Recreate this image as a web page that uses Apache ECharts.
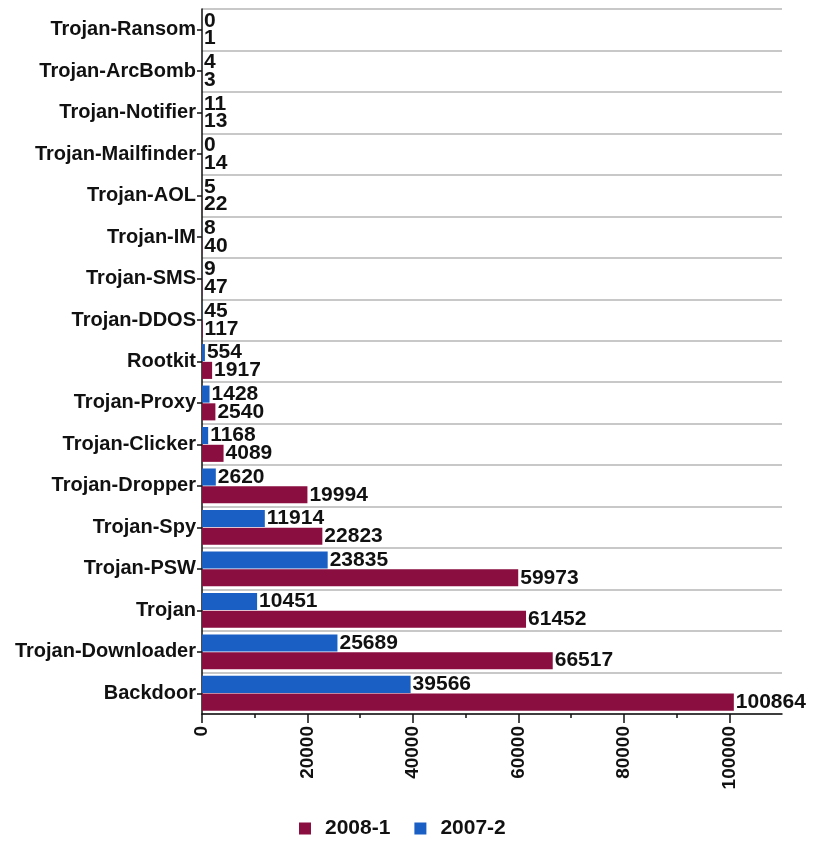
<!DOCTYPE html>
<html>
<head>
<meta charset="utf-8">
<script src="https://cdn.jsdelivr.net/npm/echarts@6/dist/echarts.min.js"></script>
<style>
  html, body { margin: 0; padding: 0; background: #fff; }
  #chart { width: 814px; height: 841px; }
</style>
</head>
<body>
<div id="chart"></div>
<script>
// Malware categories, listed bottom to top along the vertical axis
const categories = [
  'Backdoor', 'Trojan-Downloader', 'Trojan', 'Trojan-PSW', 'Trojan-Spy',
  'Trojan-Dropper', 'Trojan-Clicker', 'Trojan-Proxy', 'Rootkit', 'Trojan-DDOS',
  'Trojan-SMS', 'Trojan-IM', 'Trojan-AOL', 'Trojan-Mailfinder', 'Trojan-Notifier',
  'Trojan-ArcBomb', 'Trojan-Ransom'
];
const values2008_1 = [100864, 66517, 61452, 59973, 22823, 19994, 4089, 2540, 1917, 117, 47, 40, 22, 14, 13, 3, 1];
const values2007_2 = [39566, 25689, 10451, 23835, 11914, 2620, 1168, 1428, 554, 45, 9, 8, 5, 0, 11, 4, 0];
const seriesNames = ['2008-1', '2007-2'];
const xTicks = [0, 20000, 40000, 60000, 80000, 100000];

const FONT = '"Liberation Sans", Arial, sans-serif';
const chart = echarts.init(document.getElementById('chart'), null, { renderer: 'canvas' });

const valueLabel = {
  show: true,
  position: 'right',
  distance: 2,
  color: '#111',
  fontFamily: FONT,
  fontWeight: 'bold',
  fontSize: 21
};

chart.setOption({
  animation: false,
  backgroundColor: '#fff',
  grid: { left: 202, right: 32, top: 9, bottom: 127, containLabel: false },
  legend: {
    top: 813,
    left: 294,
    itemWidth: 12,
    itemHeight: 12,
    itemGap: 24,
    icon: 'rect',
    textStyle: { fontFamily: FONT, fontWeight: 'bold', fontSize: 21, color: '#111', padding: [0, 0, 0, 9] },
    data: seriesNames
  },
  xAxis: {
    type: 'value',
    min: 0,
    max: 110000,
    interval: 20000,
    axisLine: { show: true, lineStyle: { color: '#111', width: 1.5 } },
    axisTick: { show: true, length: 9, customValues: xTicks, lineStyle: { color: '#111', width: 1.5 } },
    minorTick: { show: true, splitNumber: 2, length: 4, lineStyle: { color: '#111', width: 1.5 } },
    splitLine: { show: false },
    axisLabel: {
      rotate: 90,
      margin: 12,
      color: '#111',
      fontFamily: FONT,
      fontWeight: 'bold',
      fontSize: 19,
      customValues: xTicks,
      formatter: v => String(v)
    }
  },
  yAxis: {
    type: 'category',
    data: categories,
    axisLine: { show: true, lineStyle: { color: '#111', width: 1.5 } },
    axisTick: { show: true, alignWithLabel: true, length: 5, lineStyle: { color: '#111', width: 1.5 } },
    splitLine: { show: true, lineStyle: { color: '#c8c8c8', width: 2 } },
    axisLabel: {
      margin: 6,
      color: '#111',
      fontFamily: FONT,
      fontWeight: 'bold',
      fontSize: 20
    }
  },
  // The upper bar of each pair is 2007-2, the lower one 2008-1
  series: [
    {
      name: seriesNames[1],
      type: 'bar',
      data: values2007_2,
      barGap: '4%',
      barCategoryGap: '16%',
      itemStyle: { color: '#1a5fc4' },
      label: valueLabel
    },
    {
      name: seriesNames[0],
      type: 'bar',
      data: values2008_1,
      barGap: '4%',
      barCategoryGap: '16%',
      itemStyle: { color: '#8a0e3f' },
      label: valueLabel
    }
  ]
});
</script>
</body>
</html>
